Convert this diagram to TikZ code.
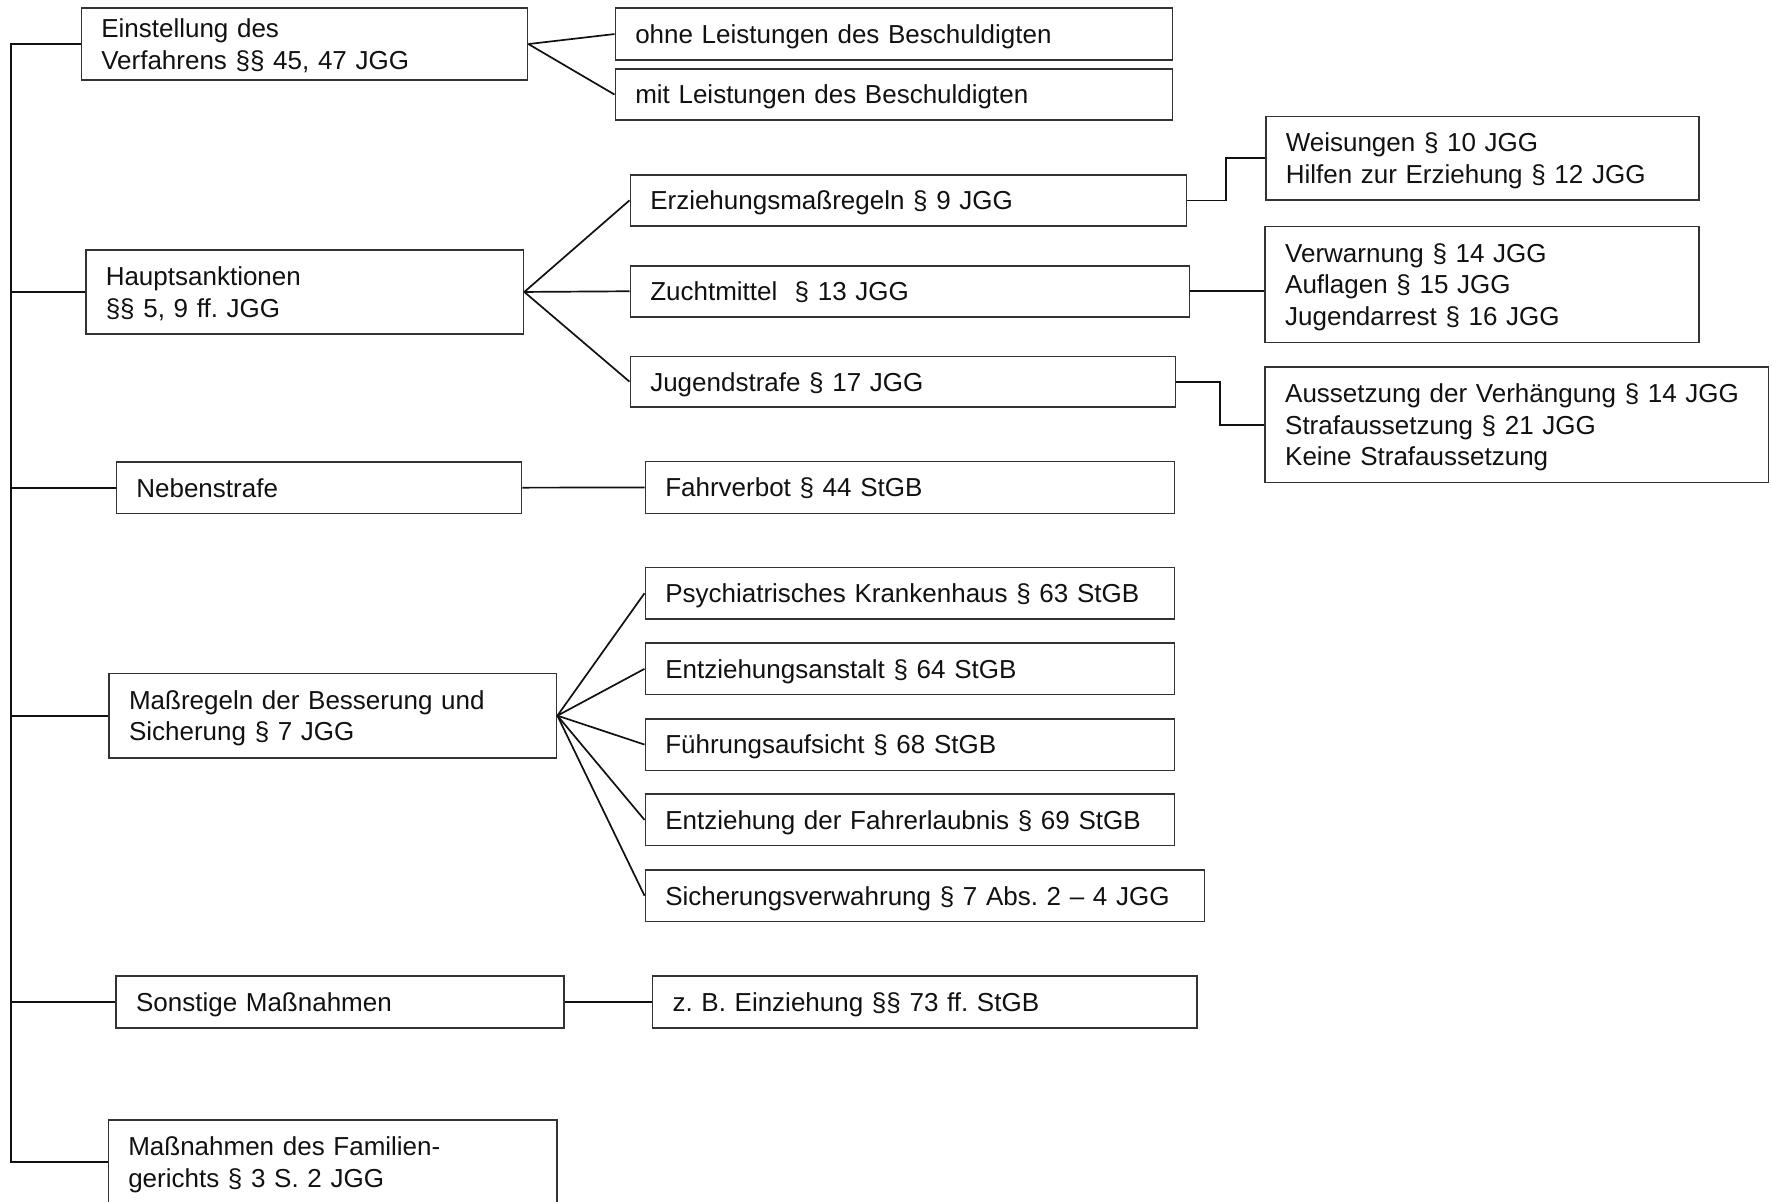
\documentclass[tikz,border=0pt]{standalone}
\usepackage{fontspec}
\setmainfont{Liberation Sans}
\usetikzlibrary{calc}
\definecolor{Ink}{HTML}{111111}
\definecolor{Frame}{HTML}{333333}
\frenchspacing

\begin{document}
\begin{tikzpicture}[x=0.5pt,y=-0.5pt,
  box/.style={draw=Frame,line width=0.75pt,anchor=north west,align=left,
    inner xsep=10pt,inner ysep=0pt,text depth=0pt,text=Ink,
    font=\fontsize{13}{15.75}\selectfont},
  twoline/.style={box,text depth=15.75pt},
  threeline/.style={box,text depth=31.5pt},
  link/.style={Ink,line width=0.85pt}]
\useasboundingbox (0,0) rectangle (1773,1201);
\clip (0,0) rectangle (1773,1201);
\coordinate (trunk) at (10.7,0);
\node[twoline,text width=203.2pt,minimum height=36pt] (einst) at (80.5,7.3) {Einstellung des\\Verfahrens §§ 45, 47 JGG};
\node[box,text width=258.7pt,minimum height=26pt] (ohne) at (614.5,7.3) {ohne Leistungen des Beschuldigten};
\node[box,text width=258.7pt,minimum height=25.5pt] (mit) at (614.5,68.3) {mit Leistungen des Beschuldigten};
\node[twoline,text width=198.9pt,minimum height=42.2pt] (haupt) at (85,249) {Hauptsanktionen\\§§ 5, 9 ff. JGG};
\node[box,text width=258pt,minimum height=25.6pt] (erz) at (629.5,174) {Erziehungsmaßregeln § 9 JGG};
\node[box,text width=259.7pt,minimum height=25.5pt] (zucht) at (629.5,265) {Zuchtmittel \ § 13 JGG};
\node[box,text width=252.5pt,minimum height=25.2pt] (jug) at (629.5,355.7) {Jugendstrafe § 17 JGG};
\node[twoline,text width=196.5pt,minimum height=41.8pt] (weis) at (1265,115.7) {Weisungen § 10 JGG\\Hilfen zur Erziehung § 12 JGG};
\node[threeline,text width=196.8pt,minimum height=58pt] (verw) at (1264.4,225.7) {Verwarnung § 14 JGG\\Auflagen § 15 JGG\\Jugendarrest § 16 JGG};
\node[threeline,text width=231.7pt,minimum height=57.9pt] (auss) at (1264.4,366) {Aussetzung der Verhängung § 14 JGG\\Strafaussetzung § 21 JGG\\Keine Strafaussetzung};
\node[box,text width=182.6pt,minimum height=25.9pt] (neben) at (115.6,461) {Nebenstrafe};
\node[box,text width=244.5pt,minimum height=26pt] (fahr) at (644.5,460.7) {Fahrverbot § 44 StGB};
\node[twoline,text width=203.8pt,minimum height=42.2pt] (massr) at (108.3,672.7) {Maßregeln der Besserung und\\Sicherung § 7 JGG};
\node[box,text width=244.5pt,minimum height=25.8pt] (psych) at (644.5,566.7) {Psychiatrisches Krankenhaus § 63 StGB};
\node[box,text width=244.5pt,minimum height=25.8pt] (anst) at (644.5,642.3) {Entziehungsanstalt § 64 StGB};
\node[box,text width=244.5pt,minimum height=25.8pt] (fuehr) at (644.5,718) {Führungsaufsicht § 68 StGB};
\node[box,text width=244.5pt,minimum height=25.8pt] (fahrerl) at (644.5,793.3) {Entziehung der Fahrerlaubnis § 69 StGB};
\node[box,text width=259.7pt,minimum height=25.9pt] (sich) at (644.5,869) {Sicherungsverwahrung § 7 Abs. 2 – 4 JGG};
\node[box,text width=203.9pt,minimum height=26pt] (sonst) at (115.3,975) {Sonstige Maßnahmen};
\node[box,text width=252.2pt,minimum height=26pt] (einz) at (651.8,975) {z. B. Einziehung §§ 73 ff. StGB};
\node[twoline,text width=204.3pt,minimum height=42pt] (fam) at (107.5,1119.3) {Maßnahmen des Familien-\\gerichts § 3 S. 2 JGG};
\draw[link] (einst.west) -- (einst.west -| trunk) -- (fam.west -| trunk) -- (fam.west);
\foreach \n in {haupt,neben,massr,sonst}
  \draw[link] (\n.west -| trunk) -- (\n.west);
\draw[link] (einst.east) -- (ohne.west);
\draw[link] (einst.east) -- (mit.west);
\foreach \n in {erz,zucht,jug}
  \draw[link] (haupt.east) -- (\n.west);
\draw[link] (erz.east) -| ($(erz.east)!.5!(weis.west)$) |- (weis.west);
\draw[link] (zucht.east) -- (zucht.east -| verw.west);
\draw[link] (jug.east) -| ($(jug.east)!.5!(auss.west)$) |- (auss.west);
\draw[link] (neben.east) -- (fahr.west);
\foreach \n in {psych,anst,fuehr,fahrerl,sich}
  \draw[link] (massr.east) -- (\n.west);
\draw[link] (sonst.east) -- (einz.west);
\end{tikzpicture}
\end{document}
